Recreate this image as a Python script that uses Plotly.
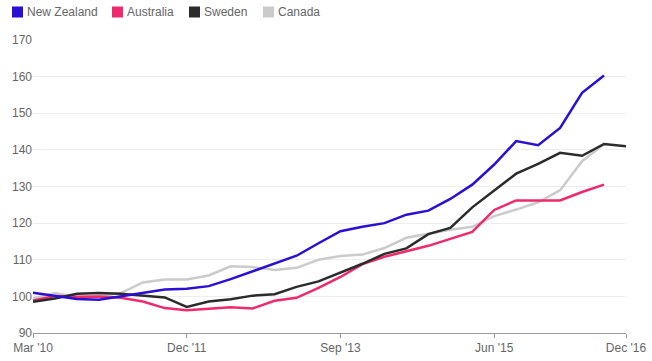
import plotly.graph_objects as go

quarters = ["Mar '10","Jun '10","Sep '10","Dec '10","Mar '11","Jun '11","Sep '11","Dec '11",
            "Mar '12","Jun '12","Sep '12","Dec '12","Mar '13","Jun '13","Sep '13","Dec '13",
            "Mar '14","Jun '14","Sep '14","Dec '14","Mar '15","Jun '15","Sep '15","Dec '15",
            "Mar '16","Jun '16","Sep '16","Dec '16"]
tick_labels = ["Mar '10", "Dec '11", "Sep '13", "Jun '15", "Dec '16"]

new_zealand = [101.0, 100.1, 99.3, 99.1, 100.0, 100.8, 101.9, 102.1, 102.8, 104.7, 106.9, 109.0,
               111.1, 114.5, 117.8, 119.0, 120.0, 122.3, 123.4, 126.6, 130.5, 136.0, 142.4, 141.3,
               146.0, 155.6, 160.3]
australia = [98.9, 100.1, 99.9, 100.0, 99.6, 98.6, 96.8, 96.2, 96.6, 97.0, 96.7, 98.8,
             99.6, 102.3, 105.3, 108.8, 110.8, 112.3, 113.8, 115.7, 117.6, 123.6, 126.2, 126.2,
             126.2, 128.5, 130.5]
sweden = [98.5, 99.4, 100.7, 100.9, 100.7, 100.1, 99.7, 97.1, 98.6, 99.2, 100.2, 100.6,
          102.6, 104.1, 106.4, 108.9, 111.6, 113.1, 117.0, 118.7, 124.3, 129.0, 133.5, 136.2,
          139.2, 138.4, 141.6, 141.0]
canada = [99.4, 100.9, 99.8, 100.0, 100.9, 103.8, 104.6, 104.6, 105.7, 108.2, 108.0, 107.2,
          107.8, 110.0, 111.0, 111.4, 113.2, 116.0, 117.1, 118.2, 119.0, 121.9, 123.7, 125.7,
          129.0, 136.9, 141.6]

series_names = ["New Zealand", "Australia", "Sweden", "Canada"]
series_values = [new_zealand, australia, sweden, canada]
series_colors = ["#2a0fd4", "#ef2a6c", "#2b2b2b", "#cbcbcb"]

W, H = 652, 361
ML, MR, MT, MB = 33, 26, 40, 28
PW, PH = W - ML - MR, H - MT - MB

fig = go.Figure()
for k in [3, 1, 2, 0]:
    vals = series_values[k]
    fig.add_trace(go.Scatter(x=list(range(len(vals))), y=vals, mode="lines",
                             name=series_names[k],
                             line=dict(color=series_colors[k], width=2.5),
                             showlegend=False))

# legend drawn as squares + labels above the plot
legend_square_px = [12, 112, 189, 263]
sq = 11
legend_y_px = 12
shapes, annotations = [], []
def px_x(X):
    return (X - ML) / PW
def px_y(Y):
    return (H - MB - Y) / PH
for name, color, x0 in zip(series_names, series_colors, legend_square_px):
    shapes.append(dict(type="rect", xref="paper", yref="paper",
                       x0=px_x(x0), x1=px_x(x0 + sq),
                       y0=px_y(legend_y_px + sq / 2), y1=px_y(legend_y_px - sq / 2),
                       fillcolor=color, line=dict(width=0)))
    annotations.append(dict(text=name, xref="paper", yref="paper",
                            x=px_x(x0 + sq + 2), y=px_y(legend_y_px),
                            xanchor="left", yanchor="middle", showarrow=False,
                            font=dict(size=12, color="#666666")))

tick_idx = [quarters.index(t) for t in tick_labels]

fig.update_layout(
    width=W, height=H,
    margin=dict(l=ML, r=MR, t=MT, b=MB, autoexpand=False),
    paper_bgcolor="white", plot_bgcolor="white",
    font=dict(family="Liberation Sans, Arial, sans-serif", size=12, color="#666666"),
    showlegend=False,
    shapes=shapes, annotations=annotations,
    xaxis=dict(range=[0, len(quarters) - 1], tickvals=tick_idx, ticktext=tick_labels,
               showgrid=False, zeroline=False, showline=True, linecolor="#999999", linewidth=1,
               ticks="outside", ticklen=4, tickcolor="#999999", automargin=False,
               tickfont=dict(size=12, color="#666666")),
    yaxis=dict(range=[90, 170], dtick=10, showgrid=True, gridcolor="#eeeeee", gridwidth=1,
               zeroline=False, showline=False, ticks="", automargin=False,
               tickfont=dict(size=12, color="#666666")),
)

fig.write_html("out.html", config={"displayModeBar": False},
               post_script="document.body.style.margin='0';")
